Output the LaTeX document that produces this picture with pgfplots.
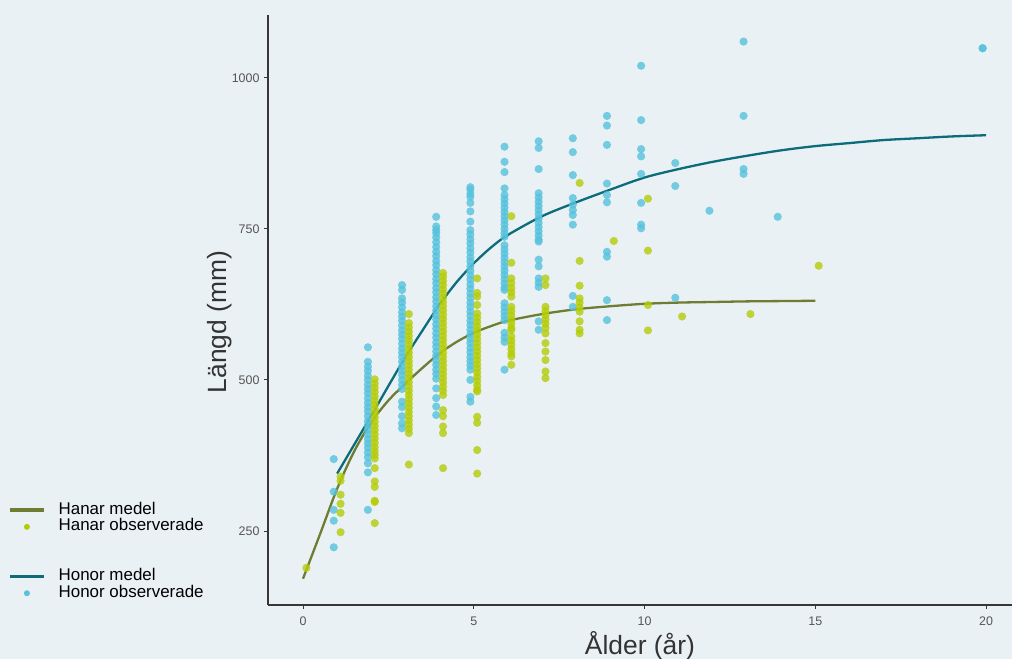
\documentclass[border=0pt]{standalone}
\usepackage{fontspec}
\setmainfont{Liberation Sans}
\usepackage{pgfplots}
\pgfplotsset{compat=1.18}
\definecolor{bg}{RGB}{234,241,245}
\definecolor{honorpt}{RGB}{86,194,221}
\definecolor{hanarpt}{RGB}{180,204,8}
\definecolor{honorln}{RGB}{13,108,122}
\definecolor{hanarln}{RGB}{110,125,50}
\definecolor{axisgrey}{RGB}{55,55,55}
\definecolor{tickgrey}{RGB}{85,85,85}
\pgfplotsset{
 lineleg/.style={legend image code/.code={\draw[##1] (0bp,0bp) -- (34bp,0bp);}},
 dotleg/.style={legend image code/.code={\path[draw=none,fill=none] (0bp,0bp) -- (34bp,0bp); \fill[##1, draw=none] (17bp,0bp) circle (3bp);}},
}
\begin{document}
\begin{tikzpicture}[x=1bp,y=1bp]
\fill[bg] (0,0) rectangle (1012,659);
\useasboundingbox (0,0) rectangle (1012,659);
\begin{axis}[
  at={(268bp,54bp)}, anchor=south west,
  width=744bp, height=590bp, scale only axis,
  xmin=-1.025, xmax=20.76, ymin=127.5, ymax=1104,
  axis x line*=bottom, axis y line*=left,
  axis line style={axisgrey, line width=1.1bp, -},
  xtick={0,5,10,15,20}, ytick={250,500,750,1000},
  tick align=outside, major tick length=4bp,
  tick style={axisgrey, line width=0.9bp},
  ticklabel style={font=\fontsize{12.5}{14}\selectfont, text=tickgrey},
  yticklabel style={xshift=-1bp},
  xticklabel style={yshift=-4bp},
  /pgf/number format/assume math mode=true,
  /pgf/number format/1000 sep={},
  xlabel={Ålder (år)}, ylabel={Längd (mm)},
  label style={font=\fontsize{26.5}{30}\selectfont, text=black!80},
  xlabel style={at={(axis description cs:0.5,-0.0831)}, anchor=base},
  ylabel style={at={(axis description cs:-0.0555,0.4797)}, anchor=base, rotate=0},
  legend style={at={(axis description cs:-0.3495,0.175)}, anchor=north west,
    draw=none, fill=none, inner sep=0pt, row sep=0pt, column sep=13bp,
    font=\fontsize{17}{19}\selectfont,
    nodes={inner sep=0pt, text height=12.4bp, text depth=4.2bp},
    cells={anchor=west}},
  legend cell align=left,
  clip=false,
]
\addlegendimage{lineleg, hanarln, line width=3.5bp}
\addlegendentry{Hanar medel}
\addlegendimage{dotleg, hanarpt}
\addlegendentry{Hanar observerade}
\addlegendimage{empty legend}
\addlegendentry{}
\addlegendimage{empty legend}
\addlegendentry{}
\addlegendimage{lineleg, honorln, line width=3.5bp}
\addlegendentry{Honor medel}
\addlegendimage{dotleg, honorpt}
\addlegendentry{Honor observerade}

% Honor observed (x offset -0.1)
\addplot[forget plot, only marks, mark=*, mark size=4.1bp, color=honorpt, mark options={draw opacity=0, fill=honorpt, fill opacity=0.8}] coordinates {
(0.9,369) (0.9,315) (0.9,285) (0.9,267) (0.9,223)
(1.9,554) (1.9,530) (1.9,522) (1.9,515) (1.9,507) (1.9,500) (1.9,492) (1.9,485) (1.9,478) (1.9,470) (1.9,462) (1.9,455) (1.9,448) (1.9,440) (1.9,432) (1.9,425) (1.9,418) (1.9,410) (1.9,402) (1.9,395) (1.9,388) (1.9,380) (1.9,372) (1.9,362) (1.9,347) (1.9,285)
(2.9,657) (2.9,649) (2.9,635) (2.9,628) (2.9,620) (2.9,612) (2.9,605) (2.9,598) (2.9,590) (2.9,582) (2.9,575) (2.9,568) (2.9,560) (2.9,552) (2.9,545) (2.9,538) (2.9,530) (2.9,522) (2.9,515) (2.9,508) (2.9,500) (2.9,492) (2.9,485) (2.9,464) (2.9,455) (2.9,440) (2.9,428) (2.9,420)
(3.9,770) (3.9,754) (3.9,748) (3.9,743) (3.9,736) (3.9,728) (3.9,720) (3.9,712) (3.9,705) (3.9,697) (3.9,690) (3.9,682) (3.9,675) (3.9,667) (3.9,660) (3.9,652) (3.9,645) (3.9,637) (3.9,630) (3.9,622) (3.9,615) (3.9,607) (3.9,600) (3.9,592) (3.9,585) (3.9,577) (3.9,570) (3.9,562) (3.9,555) (3.9,547) (3.9,540) (3.9,532) (3.9,525) (3.9,517) (3.9,510) (3.9,502) (3.9,486) (3.9,470) (3.9,456) (3.9,442)
(4.9,819) (4.9,815) (4.9,808) (4.9,803) (4.9,793) (4.9,779) (4.9,762) (4.9,748) (4.9,741) (4.9,733) (4.9,726) (4.9,718) (4.9,711) (4.9,703) (4.9,696) (4.9,688) (4.9,681) (4.9,673) (4.9,666) (4.9,658) (4.9,651) (4.9,643) (4.9,636) (4.9,628) (4.9,621) (4.9,613) (4.9,606) (4.9,598) (4.9,591) (4.9,583) (4.9,576) (4.9,568) (4.9,561) (4.9,553) (4.9,546) (4.9,538) (4.9,531) (4.9,524) (4.9,517) (4.9,500) (4.9,472) (4.9,464)
(5.9,886) (5.9,861) (5.9,844) (5.9,817) (5.9,806) (5.9,799) (5.9,792) (5.9,785) (5.9,778) (5.9,771) (5.9,764) (5.9,757) (5.9,750) (5.9,743) (5.9,737) (5.9,723) (5.9,716) (5.9,709) (5.9,702) (5.9,695) (5.9,688) (5.9,681) (5.9,674) (5.9,667) (5.9,660) (5.9,653) (5.9,649) (5.9,627) (5.9,620) (5.9,613) (5.9,606) (5.9,599) (5.9,578) (5.9,570) (5.9,563) (5.9,517)
(6.9,895) (6.9,884) (6.9,849) (6.9,809) (6.9,802) (6.9,795) (6.9,788) (6.9,781) (6.9,774) (6.9,767) (6.9,760) (6.9,753) (6.9,746) (6.9,739) (6.9,732) (6.9,729) (6.9,699) (6.9,688) (6.9,668) (6.9,661) (6.9,654) (6.9,597) (6.9,583)
(7.9,900) (7.9,877) (7.9,839) (7.9,801) (7.9,790) (7.9,781) (7.9,773) (7.9,757) (7.9,639) (7.9,621)
(8.9,937) (8.9,921) (8.9,889) (8.9,825) (8.9,806) (8.9,794) (8.9,712) (8.9,704) (8.9,632) (8.9,599)
(9.9,1020) (9.9,930) (9.9,882) (9.9,870) (9.9,841) (9.9,793) (9.9,757) (9.9,751)
(10.9,859) (10.9,821) (10.9,636)
(11.9,780)
(12.9,1060) (12.9,937) (12.9,849) (12.9,841)
(13.9,770)
(19.9,1049) (19.9,1049)
};

% Hanar observed (x offset +0.1)
\addplot[forget plot, only marks, mark=*, mark size=4.1bp, color=hanarpt, mark options={draw opacity=0, fill=hanarpt, fill opacity=0.8}] coordinates {
(0.1,189)
(1.1,340) (1.1,333) (1.1,310) (1.1,295) (1.1,280) (1.1,248)
(2.1,501) (2.1,494) (2.1,487) (2.1,480) (2.1,473) (2.1,466) (2.1,459) (2.1,452) (2.1,445) (2.1,438) (2.1,431) (2.1,424) (2.1,417) (2.1,410) (2.1,403) (2.1,396) (2.1,389) (2.1,382) (2.1,376) (2.1,370) (2.1,354) (2.1,332) (2.1,323) (2.1,300) (2.1,298) (2.1,263)
(3.1,609) (3.1,594) (3.1,587) (3.1,580) (3.1,573) (3.1,566) (3.1,559) (3.1,552) (3.1,545) (3.1,538) (3.1,531) (3.1,524) (3.1,517) (3.1,510) (3.1,503) (3.1,496) (3.1,489) (3.1,482) (3.1,475) (3.1,468) (3.1,461) (3.1,454) (3.1,447) (3.1,440) (3.1,433) (3.1,426) (3.1,419) (3.1,412) (3.1,360)
(4.1,677) (4.1,671) (4.1,664) (4.1,657) (4.1,650) (4.1,643) (4.1,636) (4.1,629) (4.1,622) (4.1,615) (4.1,608) (4.1,601) (4.1,594) (4.1,587) (4.1,580) (4.1,573) (4.1,566) (4.1,559) (4.1,552) (4.1,545) (4.1,538) (4.1,531) (4.1,524) (4.1,517) (4.1,510) (4.1,503) (4.1,496) (4.1,489) (4.1,482) (4.1,475) (4.1,450) (4.1,440) (4.1,423) (4.1,412) (4.1,354)
(5.1,668) (5.1,644) (5.1,638) (5.1,624) (5.1,610) (5.1,603) (5.1,596) (5.1,589) (5.1,582) (5.1,575) (5.1,568) (5.1,561) (5.1,554) (5.1,547) (5.1,540) (5.1,533) (5.1,526) (5.1,519) (5.1,512) (5.1,505) (5.1,498) (5.1,491) (5.1,484) (5.1,481) (5.1,439) (5.1,429) (5.1,384) (5.1,345)
(6.1,771) (6.1,694) (6.1,668) (6.1,660) (6.1,652) (6.1,645) (6.1,638) (6.1,621) (6.1,614) (6.1,607) (6.1,600) (6.1,593) (6.1,586) (6.1,583) (6.1,572) (6.1,565) (6.1,558) (6.1,551) (6.1,544) (6.1,539) (6.1,525)
(7.1,668) (7.1,657) (7.1,621) (7.1,614) (7.1,607) (7.1,600) (7.1,593) (7.1,586) (7.1,577) (7.1,561) (7.1,547) (7.1,533) (7.1,514) (7.1,503)
(8.1,826) (8.1,697) (8.1,656) (8.1,635) (8.1,628) (8.1,620) (8.1,613) (8.1,597) (8.1,583) (8.1,577)
(9.1,730)
(10.1,800) (10.1,714) (10.1,624) (10.1,582)
(11.1,605)
(13.1,609)
(15.1,689)
};

% Honor model
\addplot[forget plot, honorln, line width=2.3bp, smooth] coordinates {
(1,345) (1.5,393) (2,441) (2.5,490) (3,538) (3.5,582) (4,625) (4.5,662) (5,693) (5.5,719) (6,740) (7,771) (8,794) (9,815) (10,835) (11,849) (12,861) (13,871) (14,880) (15,887) (16,892) (17,897) (18,900) (19,903) (20,905)
};
% Hanar model
\addplot[forget plot, hanarln, line width=2.3bp, smooth] coordinates {
(0,171) (0.5,245) (1,320) (1.5,382) (2,430) (2.5,466) (3,494) (3.5,520) (4,544) (4.5,563) (5,578) (5.5,589) (6,598) (7,609) (8,617) (9,622) (10,626) (11,628) (12,629) (13,630) (14,630.5) (15,631)
};
\end{axis}
\end{tikzpicture}
\end{document}
